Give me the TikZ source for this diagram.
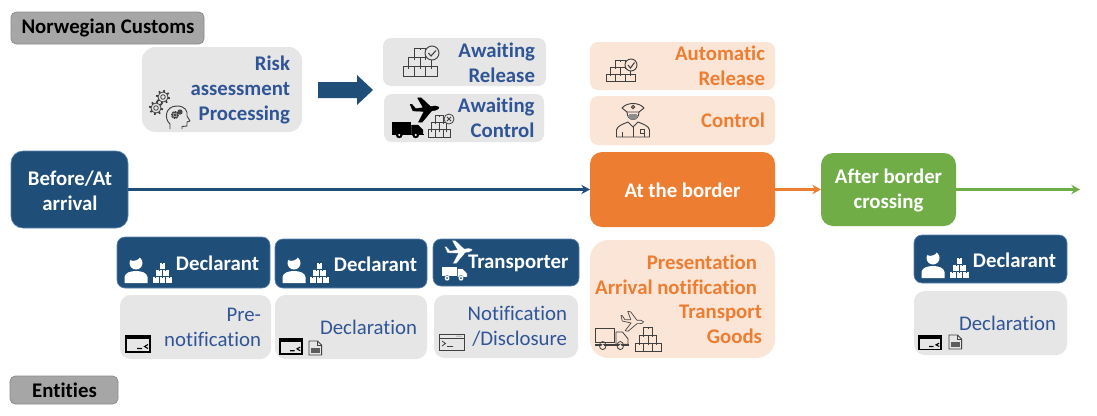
\documentclass[tikz,border=0pt]{standalone}
\usepackage{fontspec}
\usetikzlibrary{arrows.meta}
\setmainfont[Ligatures=CommonOff]{Carlito}
\definecolor{dblue}{HTML}{1F4E79}
\definecolor{tblue}{HTML}{2F5597}
\definecolor{edgeblue}{HTML}{5B82B0}
\definecolor{orng}{HTML}{ED7D31}
\definecolor{peach}{HTML}{FBE5D6}
\definecolor{lgray}{HTML}{E7E6E6}
\definecolor{grn}{HTML}{70AD47}
\definecolor{mgray}{HTML}{A6A6A6}
\definecolor{icong}{HTML}{404040}
\newcommand{\panel}[6]{%
  \pgfmathsetmacro{\cxx}{(#3+#5)/2}\pgfmathsetmacro{\cyy}{(#4+#6)/2}%
  \pgfmathsetmacro{\www}{(#5-#3)*0.75}\pgfmathsetmacro{\hhh}{(#6-#4)*0.75}%
  \node[#1,minimum width=\www pt,minimum height=\hhh pt] (#2) at (\cxx,\cyy) {};}
\tikzset{
  panelbase/.style={inner sep=0pt,outer sep=0pt,rounded corners=6pt},
  graybox/.style={panelbase,fill=lgray},
  peachbox/.style={panelbase,fill=peach},
  bluebox/.style={panelbase,fill=dblue,draw=edgeblue,line width=.5pt},
  stagebox/.style={panelbase,rounded corners=9pt,text=white},
  tagbox/.style={panelbase,rounded corners=4pt,fill=mgray,draw=black!45,line width=.6pt},
  lab/.style={inner sep=0pt,outer sep=0pt,anchor=east,align=right,font=\fontsize{15.6}{18.8}\selectfont},
  blab/.style={lab,font=\fontsize{15.6}{18.8}\selectfont\bfseries},
  mid/.style={inner sep=0pt,outer sep=0pt,anchor=center,align=center,text=white,font=\fontsize{15.6}{18.8}\selectfont\bfseries},
  conn/.style={line width=1.8pt,-{Stealth[length=6.5pt,width=7pt]}},
  pics/boxes/.style={code={
    \foreach \x/\y in {0/16,10/16,20/16,5/8,15/8,10/0}{
      \draw[pic actions] (\x,\y) rectangle ++(10,8);
      \draw[pic actions] (\x+5,\y) -- ++(0,2);
    }}},
  pics/truck/.style={code={
    \draw[pic actions] (0,0) rectangle (18,11);
    \draw[pic actions] (19,3) -- (25,3) -- (30,8) -- (30,12) -- (19,12) -- cycle;
    \draw[pic actions] (0,12) rectangle (30,12.6);
    \draw[pic actions] (7,13) circle (3);
    \draw[pic actions] (23,13) circle (3);
    \fill[#1] (7,13) circle (1.1) (23,13) circle (1.1);}},
  pics/plane/.style={code={
    \draw[pic actions,line join=round] (15,-3) .. controls (13,-5) and (10,-4.5) .. (6,-3.5)
      -- (-4,-13) -- (-8,-13) -- (-2,-2.5) -- (-10,-1.5) -- (-14,-6) -- (-16,-6) -- (-13,1)
      -- (-1,1.5) -- (-7,13) -- (-3,13) -- (7,1) -- (12,0) .. controls (14,-.5) and (15,-2) .. (15,-3) -- cycle;}},
  pics/termdark/.style={code={
    \draw[line width=1.2pt,draw=black,fill=lgray] (0,0) rectangle (24,16);
    \fill[black] (0,0) rectangle (24,3);
    \draw[line width=.8pt,draw=black] (11,12.5) -- (16,12.5) (22,8.5) -- (18.5,10.5) -- (22,12.5);}},
  pics/termlight/.style={code={
    \draw[line width=.6pt,draw=icong] (0,0) rectangle (25,16);
    \draw[line width=.6pt,draw=icong] (0,4) -- (25,4);
    \draw[line width=.6pt,draw=icong] (3,7) -- (6.5,9.5) -- (3,12) (8,12.5) -- (14,12.5);
    \foreach \x in {18,20,22}{\fill[icong] (\x,2) circle (.5);}}},
  pics/docicon/.style={code={
    \draw[line width=.7pt,fill=lgray,draw=icong] (0,0) -- (8,0) -- (12,4) -- (12,14) -- (0,14) -- cycle;
    \draw[line width=.6pt,draw=icong] (8,0) -- (8,4) -- (12,4);
    \fill[icong!85] (2,6.5) rectangle (10,12);}},
  pics/gearicon/.style={code={
    \foreach \a in {0,45,...,315}{\draw[line width=1.3pt,draw=#1] (\a+10:4.8) -- (\a+10:7);}
    \draw[line width=.6pt,draw=#1,fill=lgray] (0,0) circle (5);
    \draw[line width=.6pt,draw=#1] (0,0) circle (2.3);}},
  pics/headicon/.style={code={
    \draw[line width=.7pt,draw=icong,line join=round,fill=lgray] (-7,12) -- (-7,7)
      .. controls (-13,2) and (-12,-11) .. (0,-11)
      .. controls (8,-11) and (11,-6) .. (10,-1) -- (13,4) -- (10,5) -- (10,9) -- (5,9.5) -- (5,12);
    \pic[scale=.55] at (-2,-2) {gearicon=icong};
    \pic[scale=.35] at (3,-5) {gearicon=icong};}},
  pics/officer/.style={code={
    \draw[line width=.7pt,draw=icong,line join=round] (-6,6) .. controls (-6,16) and (6,16) .. (6,6);
    \fill[icong!60] (-5.5,10) .. controls (-3,15) and (3,15) .. (5.5,10) -- (3,8) -- (-3,8) -- cycle;
    \draw[line width=.7pt,draw=icong,line join=round,fill=none] (-11,2) .. controls (-6,-4) and (6,-4) .. (11,2) -- (6,6) -- (-6,6) -- cycle;
    \draw[line width=.7pt,draw=icong] (0,1) circle (1.6);
    \draw[line width=.7pt,draw=icong,line join=round] (-16.5,31) -- (-16.5,24) .. controls (-16,20) and (-10,18) .. (-5,16)
      -- (0,21) -- (5,16) .. controls (10,18) and (16,20) .. (16.5,24) -- (16.5,31) -- cycle;
    \draw[line width=.7pt,draw=icong] (0,21) -- (0,31) (-11,26) -- (-11,31) (11,26) -- (11,31);
    \draw[line width=.7pt,draw=icong] (7,23) rectangle (11,27);}},
}
\begin{document}
\begin{tikzpicture}[x=0.75pt,y=-0.75pt]
\useasboundingbox (0,0) rectangle (1097,415);

% tags
\panel{tagbox}{tagtop}{11}{12}{204}{44}
\node[inner sep=0pt,font=\fontsize{15.6}{18}\selectfont\bfseries] (tagtoptext) at (108,28) {Norwegian Customs};
\panel{tagbox}{tagbot}{10}{376}{118}{404}
\node[inner sep=0pt,font=\fontsize{15.6}{18}\selectfont\bfseries] (tagbottext) at (64.5,390.5) {Entities};

% upper panels
\panel{graybox,rounded corners=10pt}{risk}{142}{47}{302}{132}
\panel{graybox}{awrel}{383}{38}{546}{86}
\panel{graybox}{awctl}{384}{94}{544}{142}
\panel{peachbox}{autorel}{590}{42}{775}{90}
\panel{peachbox}{ctl}{590}{96}{775}{145}
\node[blab,text=tblue] (risktext) at (290,90) {Risk\\assessment\\Processing};
\node[blab,text=tblue] (awreltext) at (535,62.5) {Awaiting\\Release};
\node[blab,text=tblue] (awctltext) at (534.5,118) {Awaiting\\Control};
\node[blab,text=orng] (autoreltext) at (765,66) {Automatic\\Release};
\node[blab,text=orng] (ctltext) at (765,120.5) {Control};

% big arrow
\fill[dblue] (318,82) -- (357,82) -- (357,75) -- (373,90) -- (357,105) -- (357,98) -- (318,98) -- cycle;

% stages
\panel{stagebox,fill=dblue,draw=edgeblue,line width=.5pt}{before}{11}{151}{128}{228}
\panel{stagebox,fill=orng}{border}{590}{152}{775}{227}
\panel{stagebox,fill=grn}{after}{821}{153}{956}{226}
\node[mid] (beforetext) at (70,190.5) {Before/At\\arrival};
\node[mid] (bordertext) at (682.5,190) {At the border};
\node[mid] (aftertext) at (888.5,190.5) {After border\\crossing};
\coordinate (endpt) at (1080,189.5);
\draw[conn,dblue] (before.east) -- (border.west);
\draw[conn,orng] (border.east) -- (after.west);
\draw[conn,grn] (after.east) -- (endpt);

% actors
\panel{bluebox}{dec1}{117}{237}{270}{288}
\panel{bluebox}{dec2}{275}{239}{427}{288}
\panel{bluebox}{trans}{433}{239}{579}{286}
\panel{bluebox}{dec3}{914}{235}{1067}{283}
\node[blab,text=white] (dec1text) at (259,263.5) {Declarant};
\node[blab,text=white] (dec2text) at (417,264) {Declarant};
\node[blab,text=white] (transtext) at (568.5,263) {Transporter};
\node[blab,text=white] (dec3text) at (1056,260) {Declarant};

% actions
\panel{graybox,rounded corners=8pt}{act1}{120}{295}{271}{359}
\panel{graybox,rounded corners=8pt}{act2}{275}{295}{427}{359}
\panel{graybox,rounded corners=8pt}{act3}{434}{295}{578}{358}
\panel{graybox,rounded corners=8pt}{act4}{914}{291}{1067}{355}
\node[lab,text=tblue] (act1text) at (261,327.5) {Pre-\\notification};
\node[lab,text=tblue] (act2text) at (417,327.5) {Declaration};
\node[lab,text=tblue] (act3text) at (567,326.5) {Notification\\/Disclosure};
\node[lab,text=tblue] (act4text) at (1056,323.5) {Declaration};

% goods panel
\panel{peachbox,rounded corners=14pt}{goods}{590}{240}{775}{358}
\node[blab,text=orng] (prestext) at (757,274.5) {Presentation\\Arrival notification};
\node[blab,text=orng] (transporttext) at (762,324.5) {Transport\\Goods};

% icons: upper row
\pic at (163,97) {gearicon=icong};
\pic at (156,108) {gearicon=icong};
\pic at (177,117) {headicon};
\pic[draw=icong,line width=.6pt,xscale=1.13,yscale=1.17] at (403,48) {boxes};
\draw[icong,line width=.7pt,fill=lgray] (432,53) circle (7);
\draw[icong,line width=.8pt] (428.5,53) -- (431,56) -- (436,50.5);
\pic[fill=black,draw=black,line width=.3pt,scale=.93] at (425,110) {plane};
\pic[fill=black,draw=black,line width=.3pt,xscale=1.03] at (392,122) {truck=white};
\pic[draw=icong,line width=.5pt,xscale=.75,yscale=.92] at (428,115) {boxes};
\draw[icong,line width=.6pt,fill=lgray] (449,119) circle (5);
\draw[icong,line width=.6pt] (447,117) -- (451,121) (451,117) -- (447,121);
\pic[draw=icong,line width=.6pt,xscale=.97,yscale=.88] at (606,60) {boxes};
\draw[icong,line width=.7pt,fill=peach] (631,65) circle (6);
\draw[icong,line width=.8pt] (628,65) -- (630.5,68) -- (634.5,62.5);
\pic at (633,106) {officer};

% icons: actors
\foreach \px/\py/\bx/\by in {136/257/152/262, 294/257/309/262, 933/252/949/257}{
  \fill[white] (\px,\py+6) circle (6.5);
  \fill[dblue] (\px-6,\py+3) .. controls (\px-2,\py+5) and (\px+3,\py+3) .. (\px+4,\py-.5) -- (\px-2,\py-2) -- cycle;
  \fill[white] (\px-11.5,\py+26) -- (\px-11.5,\py+20) .. controls (\px-11,\py+16) and (\px-6,\py+14) .. (\px,\py+14)
    .. controls (\px+6,\py+14) and (\px+11,\py+16) .. (\px+11.5,\py+20) -- (\px+11.5,\py+26) -- cycle;
  \pic[fill=white,draw=dblue,line width=.3pt,xscale=.67,yscale=.88] at (\bx,\by) {boxes};
}
\pic[fill=white,draw=dblue,line width=.2pt,scale=.9] at (459,252) {plane};
\pic[fill=white,draw=dblue,line width=.2pt,xscale=.87,yscale=.93] at (441,266) {truck=dblue};

% icons: actions
\pic at (126,336) {termdark};
\pic[xscale=.92,yscale=.94] at (280,339) {termdark};
\pic[xscale=1.05] at (309,341) {docicon};
\pic at (439,334) {termlight};
\pic[xscale=.92,yscale=.84] at (919,336) {termdark};
\pic[xscale=1.05] at (949,335) {docicon};

% icons: goods panel
\pic[draw=icong,line width=.6pt,fill=none,xscale=1.1,yscale=1.35] at (595,328) {truck=peach};
\pic[draw=icong,fill=peach,line width=.5pt,scale=.75,rotate=-10] at (632,322) {plane};
\pic[draw=icong,line width=.6pt,xscale=.87,yscale=1] at (635,327) {boxes};
\end{tikzpicture}
\end{document}
